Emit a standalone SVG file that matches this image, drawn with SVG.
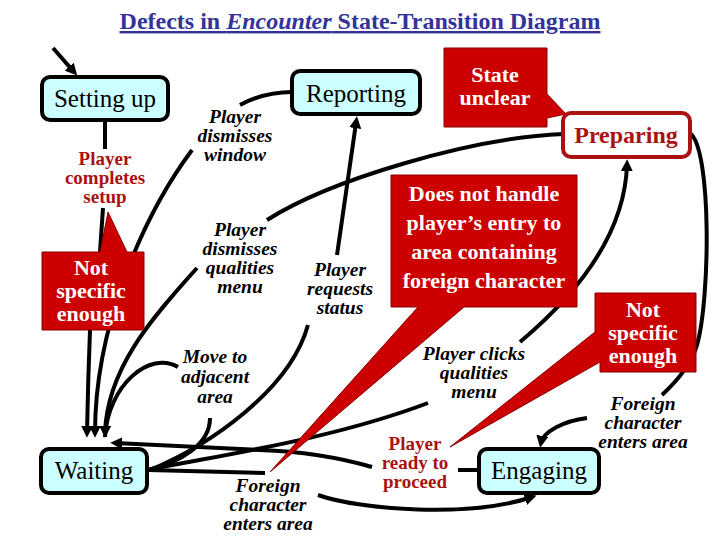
<svg xmlns="http://www.w3.org/2000/svg" width="720" height="540" viewBox="0 0 720 540" font-family="'Liberation Serif', serif">
<defs>
<style>
text{font-family:'Liberation Serif', serif}
.node rect{fill:#CCFFFF;stroke:#000;stroke-width:4}
.callout{fill:#CC0000;stroke:#8A0000;stroke-width:1}
.ctext{font-size:22px;font-weight:bold;text-anchor:middle;fill:#fff}
.lbl{font-size:19.5px;font-weight:bold;font-style:italic;text-anchor:middle;fill:#000}
.rlbl{font-size:19px;font-weight:bold;text-anchor:middle;fill:#AA1111}
.edge{fill:none;stroke:#000;stroke-width:4;stroke-linecap:butt}
.arr{marker-end:url(#ah)}
</style>
<marker id="ah" viewBox="0 0 10 10" refX="6" refY="5" markerWidth="3" markerHeight="3" orient="auto" markerUnits="strokeWidth">
<path d="M0,0 L10,5 L0,10 z" fill="#000"/>
</marker>
</defs>
<rect width="720" height="540" fill="#fff"/>
<text x="360" y="29" font-size="24" font-weight="bold" fill="#333399" text-anchor="middle" text-decoration="underline">Defects in <tspan font-style="italic">Encounter</tspan> State-Transition Diagram</text>

<g id="connectors">
<path class="edge arr" d="M53,48 L74,72"/>
<path class="edge" d="M105,120 L105,149"/>
<path class="edge arr" d="M103,208 L100,252 L90,330 Q88,380 87,433"/>
<path class="edge" d="M292,92 C270,92 255,97 240,105"/>
<path class="edge arr" d="M192,150 C140,220 95,330 95,433"/>
<path class="edge" d="M563,134 C470,138 330,180 267,220"/>
<path class="edge arr" d="M197,268 C150,320 107,370 105,433"/>
<path class="edge" d="M210,418 C210,445 180,462 148,470"/>
<path class="edge" d="M178,367 C150,350 108,385 105,437"/>
<path class="edge" d="M150,470 C210,445 290,390 308,325"/>
<path class="edge arr" d="M337,255 L356.3,121"/>
<path class="edge" d="M148,470 C220,455 330,440 428,403"/>
<path class="edge arr" d="M520,342 C570,300 625,240 627,164"/>
<path class="edge" d="M690,133 C712,150 710,300 697,345 Q690,369 662,395"/>
<path class="edge arr" d="M587,418 C563,421 543,432 541,443"/>
<path class="edge" d="M479,470 L458,470"/>
<path class="edge arr" d="M372,467 Q320,452 260,450 L115,443"/>
<path class="edge" d="M148,470 L265,473"/>
<path class="edge arr" d="M318,495 C360,510 470,518 532,497"/>
</g>

<g id="callout-state-unclear">
<path class="callout" d="M444,48 H547 V94 L566,114 L547,118 V127 H444 Z"/>
<text class="ctext" x="495" y="82" font-size="23">State</text>
<text class="ctext" x="495" y="105" font-size="23">unclear</text>
</g>
<g id="callout-not-handle">
<path class="callout" d="M391,175 H577 V307 H464 L270,472 L418,307 H391 Z"/>
<text class="ctext" x="484" y="201" font-size="23">Does not handle</text>
<text class="ctext" x="484" y="230" font-size="23">player’s entry to</text>
<text class="ctext" x="484" y="259" font-size="23">area containing</text>
<text class="ctext" x="484" y="288" font-size="23">foreign character</text>
</g>
<g id="callout-not-specific-left">
<path class="callout" d="M42,252 H100 L108,212 L127,252 H144 V330 H42 Z"/>
<text class="ctext" x="91" y="275">Not</text>
<text class="ctext" x="91" y="298">specific</text>
<text class="ctext" x="91" y="321">enough</text>
</g>
<g id="callout-not-specific-right">
<path class="callout" d="M595,293 H696 V372 H600 V362 L450,447 L595,332 Z"/>
<text class="ctext" x="643" y="317">Not</text>
<text class="ctext" x="643" y="340">specific</text>
<text class="ctext" x="643" y="363">enough</text>
</g>

<g id="labels">
<text class="rlbl" x="105" y="165">Player</text>
<text class="rlbl" x="105" y="184">completes</text>
<text class="rlbl" x="105" y="203">setup</text>
<text class="lbl" x="235" y="123">Player</text>
<text class="lbl" x="235" y="142">dismisses</text>
<text class="lbl" x="235" y="161">window</text>
<text class="lbl" x="240" y="236">Player</text>
<text class="lbl" x="240" y="255">dismisses</text>
<text class="lbl" x="240" y="274">qualities</text>
<text class="lbl" x="240" y="293">menu</text>
<text class="lbl" x="340" y="276">Player</text>
<text class="lbl" x="340" y="295">requests</text>
<text class="lbl" x="340" y="314">status</text>
<text class="lbl" x="215" y="363">Move to</text>
<text class="lbl" x="215" y="383">adjacent</text>
<text class="lbl" x="215" y="403">area</text>
<text class="lbl" x="268" y="492">Foreign</text>
<text class="lbl" x="268" y="511">character</text>
<text class="lbl" x="268" y="530">enters area</text>
<text class="lbl" x="474" y="360">Player clicks</text>
<text class="lbl" x="474" y="379">qualities</text>
<text class="lbl" x="474" y="398">menu</text>
<text class="rlbl" x="415" y="450">Player</text>
<text class="rlbl" x="415" y="469">ready to</text>
<text class="rlbl" x="415" y="488">proceed</text>
<text class="lbl" x="643" y="410">Foreign</text>
<text class="lbl" x="643" y="429">character</text>
<text class="lbl" x="643" y="448">enters area</text>
</g>

<g id="node-setting-up" class="node">
<rect x="42" y="77" width="126" height="43" rx="8"/>
<text x="105" y="107" font-family="'Liberation Serif', serif" font-size="25" text-anchor="middle" fill="#000">Setting up</text>
</g>
<g id="node-reporting" class="node">
<rect x="292" y="71" width="128" height="43" rx="8"/>
<text x="356" y="102" font-family="'Liberation Serif', serif" font-size="25" text-anchor="middle" fill="#000">Reporting</text>
</g>
<g id="node-preparing">
<rect x="563" y="113" width="127" height="44" rx="8" fill="#fff" stroke="#AA1111" stroke-width="4"/>
<text x="626" y="143" font-family="'Liberation Serif', serif" font-size="24" font-weight="bold" fill="#AA1111" text-anchor="middle">Preparing</text>
</g>
<g id="node-waiting" class="node">
<rect x="41" y="449" width="106" height="44" rx="8"/>
<text x="94" y="479" font-family="'Liberation Serif', serif" font-size="25" text-anchor="middle" fill="#000">Waiting</text>
</g>
<g id="node-engaging" class="node">
<rect x="479" y="449" width="120" height="44" rx="8"/>
<text x="539" y="479" font-family="'Liberation Serif', serif" font-size="25" text-anchor="middle" fill="#000">Engaging</text>
</g>
</svg>
